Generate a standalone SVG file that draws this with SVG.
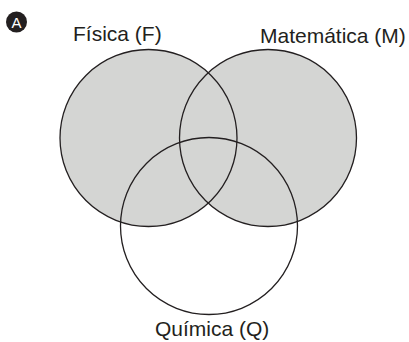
<svg xmlns="http://www.w3.org/2000/svg" width="409" height="342" viewBox="0 0 409 342">
<style>
.lbl{font-family:"Liberation Sans",Arial,sans-serif;font-size:21px;fill:#231f20}
.fill{fill:#d4d5d3;stroke:none}
.edge{fill:none;stroke:#231f20;stroke-width:1.3}
</style>
<rect width="409" height="342" fill="#ffffff"/>
<g id="badge">
<circle cx="16.5" cy="22" r="10.5" fill="#231f20"/>
<text x="16.5" y="27.5" text-anchor="middle" font-family="Liberation Sans,Arial,sans-serif" font-size="15" fill="#ffffff">A</text>
</g>
<g id="fills">
<circle cx="209" cy="226" r="88.5" fill="#ffffff"/>
<circle class="fill" cx="148.5" cy="138" r="88.5"/>
<circle class="fill" cx="268" cy="138" r="88.5"/>
</g>
<g id="node-F">
<circle class="edge" cx="148.5" cy="138" r="88.5"/>
<text class="lbl" x="73" y="40.5">Física (F)</text>
</g>
<g id="node-M">
<circle class="edge" cx="268" cy="138" r="88.5"/>
<text class="lbl" x="260" y="42.5">Matemática (M)</text>
</g>
<g id="node-Q">
<circle class="edge" cx="209" cy="226" r="88.5"/>
<text class="lbl" x="155" y="336">Química (Q)</text>
</g>
<g id="connectors"></g>
</svg>
